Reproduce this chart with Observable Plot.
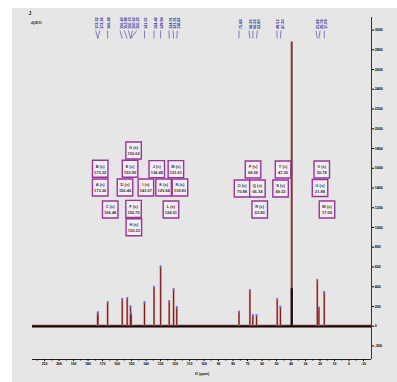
<!DOCTYPE html>
<html><head><meta charset="utf-8">
<script src="https://cdn.jsdelivr.net/npm/d3@7"></script>
<script src="https://cdn.jsdelivr.net/npm/@observablehq/plot@0.6"></script>
<style>
html,body{margin:0;padding:0;background:#fff;}
#chart{position:absolute;left:12px;top:8px;width:385px;height:374px;background:#e6e6e6;}
#chart svg{background:transparent;display:block;}
</style></head><body><div id="chart"></div>
<script>
// ---- data ----
const peakLabels  = ["A","B","C","D","E","F","G","H","I","J","K","L","M","N","O","P","Q","R","S","T","U","V","W"];
const peakShifts  = [173.26,173.32,166.48,156.40,152.99,150.70,150.62,150.23,141.07,134.48,129.94,124.01,121.01,118.83,75.88,68.36,66.34,63.80,49.52,47.30,21.88,20.78,17.09];
const peakHeights = [130,140,244,275,285,200,140,125,244,397,605,254,376,193,145,366,112,112,275,197,468,187,346];
const solventShift = 39.52;
const solventHeight = 2880;
const solventCoreHeight = 380;
const xTicks = d3.range(210, -11, -10);
const xMinorTicks = d3.range(215, -15, -10);
const yTicks = d3.range(-200, 3001, 200);
const sampleTitle = "dj/8/11";
const xLabel = "f1 (ppm)";
// ---- layout of the assignment boxes: [label, ppm of centre, intensity of centre] ----
const boxLayout = [
  ["G",148.6,1780],["B",171.6,1595],["E",151.0,1595],["J",132.6,1591],["M",119.4,1591],
  ["A",171.6,1405],["D",154.5,1405],["I",140.1,1405],["K",127.9,1405],["N",116.6,1405],
  ["C",164.7,1182],["F",148.6,1189],["L",122.8,1182],["H",148.4,1003],
  ["P",66.2,1588],["T",45.5,1588],["V",18.8,1588],
  ["O",73.8,1395],["Q",63.2,1395],["S",47.2,1395],["U",20.0,1400],
  ["R",61.6,1182],["W",15.2,1182]
];

const W = 385, H = 374;
const mL = 20, mR = 26, mT = 9, mB = 23;
const xDomain = [218.3, -15.5], yDomain = [-337, 3127];
const xs = d3.scaleLinear(xDomain, [mL, W - mR]);

const peaks = peakLabels.map((l, i) => ({label: l, ppm: peakShifts[i], h: peakHeights[i]}));

// spread the top peak labels so they do not overlap
const gap = 4.2;
const sorted = peaks.slice().sort((a, b) => xs(a.ppm) - xs(b.ppm));
let clusters = sorted.map(p => ({items: [p], c: xs(p.ppm)}));
let merged = true;
while (merged) {
  merged = false;
  for (let i = 0; i < clusters.length - 1; i++) {
    const a = clusters[i], b = clusters[i + 1];
    const aEnd = a.c + (a.items.length - 1) * gap / 2;
    const bStart = b.c - (b.items.length - 1) * gap / 2;
    if (bStart - aEnd < gap) {
      const items = a.items.concat(b.items);
      const c = d3.mean(items, p => xs(p.ppm));
      clusters.splice(i, 2, {items, c});
      merged = true;
      break;
    }
  }
}
const topLabels = [];
for (const cl of clusters) {
  cl.items.forEach((p, j) => {
    const px = cl.c + (j - (cl.items.length - 1) / 2) * gap;
    topLabels.push({lx: xs.invert(px), ppm: p.ppm, t: p.ppm.toFixed(2)});
  });
}

const boxes = boxLayout.map(([l, x, y]) => ({label: l, x, y, ppm: peakShifts[peakLabels.indexOf(l)]}));

const boxSymbol = {draw(ctx) { ctx.rect(-7.75, -8.5, 15.5, 17); }};
const tipSymbol = {draw(ctx) { ctx.rect(-0.8, -1.2, 1.6, 2.4); }};

const solvent = [{ppm: solventShift, h: solventHeight, core: solventCoreHeight}];

const chart = Plot.plot({
  width: W, height: H,
  marginLeft: mL, marginRight: mR, marginTop: mT, marginBottom: mB,
  style: {background: "transparent", fontFamily: "Liberation Sans, Arial, sans-serif"},
  x: {domain: xDomain, type: "linear"},
  y: {domain: yDomain, type: "linear"},
  marks: [
    // baseline
    Plot.ruleY([0], {stroke: "#8a3030", strokeWidth: 3.4, strokeOpacity: 0.5}),
    Plot.ruleY([0], {stroke: "#140808", strokeWidth: 2.2}),
    // peaks
    Plot.ruleX(peaks, {x: "ppm", y1: 0, y2: "h", stroke: "#c98080", strokeWidth: 2}),
    Plot.ruleX(peaks, {x: "ppm", y1: 0, y2: "h", stroke: "#7a1a1a", strokeWidth: 1}),
    Plot.dot(peaks, {x: "ppm", y: "h", symbol: tipSymbol, r: 1, fill: "#7070d8"}),
    // solvent
    Plot.ruleX(solvent, {x: "ppm", y1: 0, y2: "h", stroke: "#7a3a3a", strokeWidth: 2}),
    Plot.ruleX(solvent, {x: "ppm", y1: 0, y2: "core", stroke: "#111", strokeWidth: 2.2}),
    // axes
    Plot.ruleY([yDomain[0]], {stroke: "#222", strokeWidth: 1}),
    Plot.ruleX([xDomain[1]], {stroke: "#333", strokeWidth: 1}),
    Plot.axisX({ticks: xTicks, tickSize: 2, tickPadding: 1.2, fontSize: 3.4, fontWeight: "bold", label: null, tickFormat: d => String(d)}),
    Plot.axisX({ticks: xMinorTicks, tickSize: 1.5, label: null, tickFormat: () => ""}),
    Plot.axisY({anchor: "right", ticks: yTicks, tickSize: 2, tickPadding: 1.2, fontSize: 3.6, fontWeight: "bold", label: null, tickFormat: d => String(d)}),
    Plot.text([xLabel], {frameAnchor: "bottom", dy: 15, fontSize: 3.6, fontWeight: "bold", fill: "#111"}),
    // top peak labels
    Plot.link(topLabels, {x1: "lx", x2: "ppm", y1: 2995, y2: 2915, stroke: "#3535a5", strokeWidth: 0.6}),
    Plot.text(topLabels, {x: "lx", text: "t", frameAnchor: "top", dy: 11.5, rotate: -90, textAnchor: "start", fontSize: 3.8, fontWeight: "bold", fill: "#2a2aa0"}),
    // assignment boxes
    Plot.dot(boxes, {x: "x", y: "y", symbol: boxSymbol, r: 1, fill: "#f4eef4", stroke: "#9a359a", strokeWidth: 1.4}),
    Plot.text(boxes, {x: "x", y: "y", text: d => `${d.label} (s)\n${d.ppm.toFixed(2)}`, fontSize: 4, fontWeight: "bold", fill: "#333", lineHeight: 1.45}),
    // top-left notes
    Plot.text(["J"], {frameAnchor: "top-left", dx: -4, dy: -6.5, fontSize: 5, fontWeight: "bold", fill: "#222"}),
    Plot.text([sampleTitle], {frameAnchor: "top-left", dx: -1.5, dy: 4, fontSize: 3.6, fontWeight: "bold", fill: "#222", textAnchor: "start"})
  ]
});
document.getElementById("chart").appendChild(chart);
</script></body></html>
